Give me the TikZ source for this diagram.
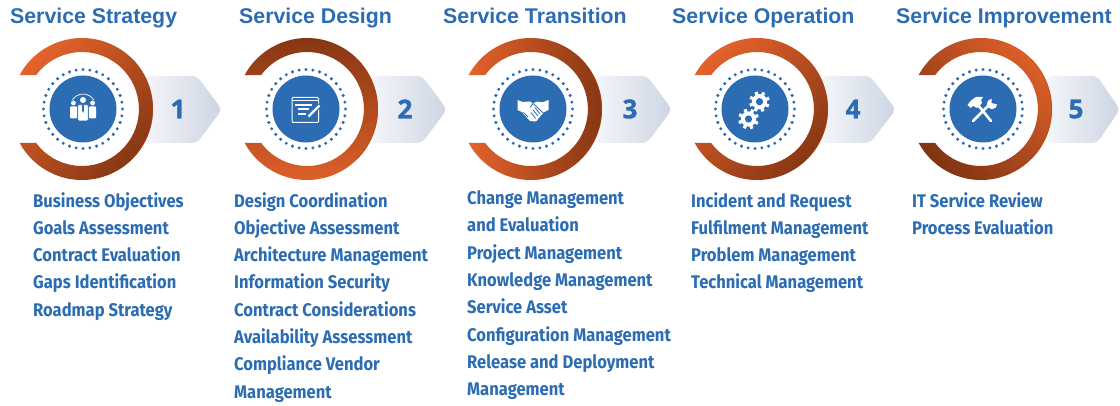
\documentclass[tikz,border=0pt]{standalone}
\usepackage{fontspec}
\setmainfont{Liberation Sans}
\newfontfamily\listfont[FakeStretch=0.905]{Fira Sans}
\newfontfamily\numfont[FakeBold=1.2]{Open Sans}
\definecolor{itilblue}{HTML}{2B6CB3}
\definecolor{itillight}{HTML}{E3622B}
\definecolor{itildark}{HTML}{803412}
\definecolor{itiledge}{HTML}{B8430F}
\definecolor{arrowlight}{HTML}{F3F5F9}
\definecolor{arrowdark}{HTML}{CDD5E3}
\tikzset{
	titlenode/.style={anchor=base west,inner sep=0pt,text=itilblue,font=\fontsize{21.3}{22}\selectfont\bfseries},
	listnode/.style={anchor=north west,inner sep=0pt,align=left,text=itilblue,font=\fontsize{18.3}{27.3}\selectfont\listfont\bfseries},
	numnode/.style={inner sep=0pt,text=itilblue,font=\fontsize{26}{26}\selectfont\numfont\bfseries},
	discnode/.style={circle,fill=itilblue,minimum size=67pt,inner sep=0pt},
}
% icons, drawn round (0,0)
\newcommand{\iconpeople}{
	\foreach \s in {-1,1}{
		\fill[white] (\s*9.6,6) circle (2.4);
		\fill[white,rounded corners=1] (\s*6,2.5) rectangle (\s*13,-9.5);
	}
	\fill[white] (0,9) circle (3);
	\fill[white,draw=itilblue,line width=.8,rounded corners=1] (-5.3,4.3) rectangle (5.3,-12);
	\fill[itilblue] (-1,4.3) -- (1,4.3) -- (.8,-2) -- (0,-4) -- (-.8,-2) -- cycle;
	\draw[white,line width=.7] (-10.7,9) arc[start angle=149,end angle=31,radius=12.5];
}
\newcommand{\icondoc}{
	\draw[white,line width=1,rounded corners=1] (-14,11.5) rectangle (12.5,-13.5);
	\draw[white,line width=1] (-14,8) -- (12.5,8);
	\fill[white] (-11,4.5) rectangle (6,2.7);
	\fill[white] (-8,.5) rectangle (3,-1.5);
	\fill[white] (-8,-4) rectangle (0,-6);
	\draw[itilblue,line width=4.5] (2,-8) -- (14,4);
	\draw[white,line width=2.2] (2.5,-7.5) -- (13.5,3.5);
}
\newcommand{\iconshake}{
	\fill[white] (-15.5,9) -- (-9,6.5) -- (-9,-4) -- (-15.5,-1) -- cycle;
	\fill[white] (15.5,9) -- (9,6.5) -- (9,-4) -- (15.5,-1) -- cycle;
	\fill[white] (-10,7) -- (-3,7.5) -- (0,5.5) -- (4,7.5) -- (10,6.5) -- (10,-4) -- (3,-12.5) -- (-3,-12) -- (-10,-4.5) -- cycle;
	\draw[itilblue,line width=.8] (-3,1.5) -- (0,5.5) -- (3,3) -- (9.5,-3.5);
	\draw[itilblue,line width=.8] (2,1.5) -- (7,-5);
	\draw[itilblue,line width=.8] (0,-1) -- (5,-7);
	\draw[itilblue,line width=.8] (-2,-3.5) -- (2.5,-9.5);
	\draw[itilblue,line width=.8] (-9.5,-3.5) -- (-5,-8);
}
\newcommand{\icongear}[2]{
	\fill[white] (#1,#2) circle (7.6);
	\foreach \a in {0,45,...,315}
		\draw[white,line width=3.2] (#1,#2) ++(\a+20:6) -- ++(\a+20:4.3);
	\fill[itilblue] (#1,#2) circle (3.6);
}
\newcommand{\icontools}{
	\draw[white,line width=2.6,line cap=round] (-10,-12) -- (7,5);
	\draw[white,line width=2.6,line cap=round] (-5,4) -- (8,-12);
	\fill[white] (-15.5,4) -- (-12.5,1) -- (-10,3) -- (-6,1) -- (-1,6) -- (-2,9) -- (0,12) -- (-7,12) -- (-12,8.5) -- cycle;
	\fill[white] (9,5) circle (5.2);
	\fill[itilblue] (8.5,6) -- (9,12) -- (17,12) -- (15,4.5) -- cycle;
}
\begin{document}
\begin{tikzpicture}[x=1pt,y=1pt]
	\useasboundingbox (0,0) rectangle (1120,405);
	% arrows behind the rings
	\foreach \ax/\sx/\tx in {145/197/222,373/422/447,597/647/672,822/870/896,1047/1097/1120}
		\shade[left color=arrowlight,right color=arrowdark,rounded corners=5] (\ax,329) -- (\sx,329) -- (\tx,295.5) -- (\sx,262) -- (\ax,262) -- cycle;
	% rings
	\foreach \rx/\ang in {82/45,307/180,531/90,757/45,981/-45}{
		\shade[top color=itillight,bottom color=itildark,shading angle=\ang] (\rx,296) ++(151.4:71) arc[start angle=151.4,end angle=-151.4,radius=71] -- ++(16.5,0) arc[start angle=-143.4,end angle=143.4,radius=57] -- cycle;
		\draw[itiledge,opacity=.6,line width=.8] (\rx,296) ++(45:70.6) arc[start angle=45,end angle=-45,radius=70.6];
	}
	% discs and dots
	\foreach \bx/\name in {83/s1,306/s2,533/s3,755/s4,983/s5}{
		\node[discnode] (\name) at (\bx,296) {};
		\foreach \a in {0,10,...,350}
			\fill[itilblue] (\bx,296) ++(\a:39.5) circle (1.7);
	}
	% icons
	\begin{scope}[shift={(83,296)}] \iconpeople \end{scope}
	\begin{scope}[shift={(306,296)}] \icondoc \end{scope}
	\begin{scope}[shift={(533,296)}] \iconshake \end{scope}
	\begin{scope}[shift={(755,296)}] \icongear{4.5}{7.3} \icongear{-6.5}{-10} \end{scope}
	\begin{scope}[shift={(983,296)}] \icontools \end{scope}
	% numbers
	\node[numnode] (n1) at (178,296) {1};
	\node[numnode] (n2) at (405,296) {2};
	\node[numnode] (n3) at (630,296) {3};
	\node[numnode] (n4) at (853,296) {4};
	\node[numnode] (n5) at (1076,296) {5};
	% titles
	\node[titlenode] (t1) at (10,381) {Service Strategy};
	\node[titlenode] (t2) at (239,381) {Service Design};
	\node[titlenode] (t3) at (443,381) {Service Transition};
	\node[titlenode] (t4) at (672,381) {Service Operation};
	\node[titlenode] (t5) at (896,381) {Service Improvement};
	% lists
	\node[listnode] (l1) at (33,213) {Business Objectives\\Goals Assessment\\Contract Evaluation\\Gaps Identification\\Roadmap Strategy};
	\node[listnode] (l2) at (234,213) {Design Coordination\\Objective Assessment\\Architecture Management\\Information Security\\Contract Considerations\\Availability Assessment\\Compliance Vendor\\Management};
	\node[listnode] (l3) at (467,214.5) {Change Management\\and Evaluation\\Project Management\\Knowledge Management\\Service Asset\\Configuration Management\\Release and Deployment\\Management};
	\node[listnode] (l4) at (691,213) {Incident and Request\\Fulfilment Management\\Problem Management\\Technical Management};
	\node[listnode] (l5) at (912,213) {IT Service Review\\Process Evaluation};
\end{tikzpicture}
\end{document}
